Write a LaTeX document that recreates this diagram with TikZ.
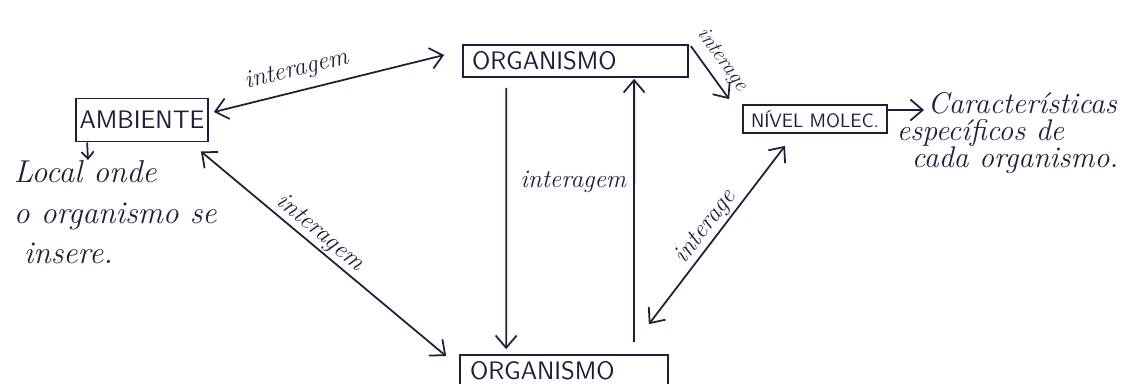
\documentclass[tikz,border=0pt]{standalone}
\usetikzlibrary{arrows.meta}

\definecolor{ink}{RGB}{30,30,58}
\tikzset{
  box/.style={draw, text=ink, font=\sffamily\Large, inner sep=2pt},
  lbl/.style={text=ink, font=\Large\itshape, sloped, inner sep=1pt},
  note/.style={text=ink, font=\itshape, align=left, inner sep=0pt},
}

\begin{document}
\begin{tikzpicture}[x=.02cm,y=-.02cm,>={Straight Barb[length=7pt,width=12pt]},line width=1pt,draw=ink]
    \clip (0,0) rectangle (1131,383);

    \node[box, minimum width=2.64cm, minimum height=.86cm] (amb) at (142,120) {AMBIENTE};
    \node[box, text width=4.14cm, inner xsep=.18cm, minimum height=.64cm] (org1) at (575.5,61) {ORGANISMO};
    \node[box, text width=3.76cm, inner xsep=.2cm, minimum height=.64cm] (org2) at (564,371) {ORGANISMO};
    \node[box, font=\sffamily\fontsize{11}{13}\selectfont, minimum width=2.88cm, minimum height=.56cm] (niv) at (815,119) {NÍVEL MOLEC.};

    \node[note, font=\fontsize{18}{23}\selectfont\itshape, anchor=north west] (loc) at (13,160)
      {Local onde\\o organismo se\\\hspace*{.2cm}insere.};
    \node[note, font=\fontsize{17}{15.5}\selectfont\itshape, anchor=west] (carac) at (896,133)
      {\hspace*{.62cm}Características\\específicos de\\\hspace*{.3cm}cada organismo.};
    \coordinate (caracin) at (924,110);

    \draw[<->] ([xshift=.1cm,yshift=.16cm]amb.east) -- node[lbl, above=4pt, pos=.38] {interagem} ([xshift=-.36cm,yshift=.12cm]org1.west);
    \draw[<->] ([xshift=-.16cm,yshift=-.18cm]amb.south east) -- node[lbl, above, pos=.45] {interagem} ([xshift=-.26cm,yshift=-.04cm]org2.north west);

    \draw[->] ([xshift=.88cm,yshift=-.2cm]org1.south west) -- ([xshift=.94cm,yshift=.1cm]org2.north west);
    \draw[->] ([xshift=3.5cm,yshift=.24cm]org2.north west) -- node[lbl, sloped=false, left=3pt, pos=.61] {interagem} ([xshift=3.44cm,yshift=-.02cm]org1.south west);

    \draw[->] ([xshift=.04cm,yshift=-.04cm]org1.north east) -- node[lbl, font=\large\itshape, above=3pt, pos=.45] {interage} ([xshift=-.26cm,yshift=.1cm]niv.north west);
    \draw[<->] ([xshift=-.4cm,yshift=.6cm]org2.north east) -- node[lbl, above, pos=.5] {interage} ([xshift=-.6cm,yshift=-.24cm]niv.south);

    \draw[->] ([yshift=.18cm]niv.east) -- (caracin);
    \draw[->, >={Straight Barb[length=4pt,width=7pt]}] ([xshift=.24cm]amb.south west) -- ([xshift=1.5cm]loc.north west);
\end{tikzpicture}
\end{document}
